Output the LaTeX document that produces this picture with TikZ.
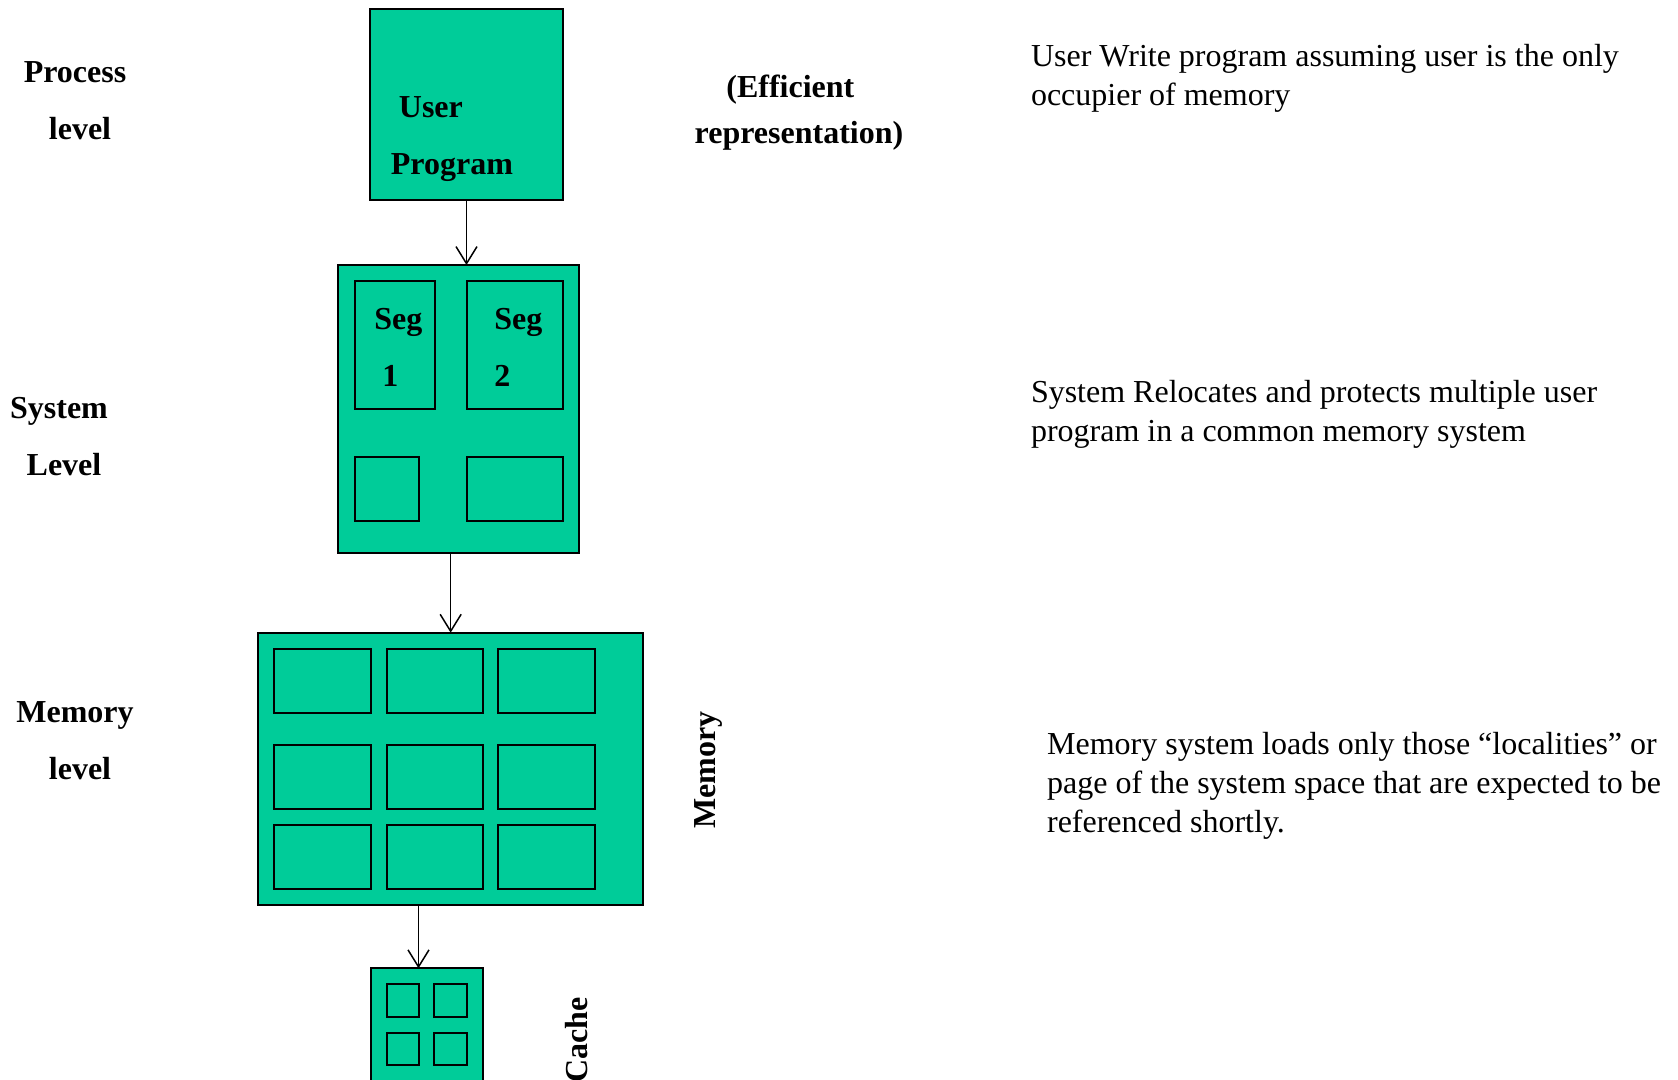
\documentclass[tikz,border=0pt]{standalone}
\usepackage{fontspec}
\setmainfont{Liberation Serif}
\usetikzlibrary{arrows.meta,fit}
\definecolor{boxgreen}{RGB}{0,204,153}
\begin{document}
\begin{tikzpicture}[x=0.5pt,y=-0.5pt,
  blk/.style={draw=black, line width=1pt, fill=boxgreen, inner sep=0pt, outer sep=0pt},
  cell/.style={draw=black, line width=1pt, inner sep=0pt, outer sep=0pt},
  arr/.style={draw=black, line width=0.75pt, -{Straight Barb[length=8.5pt,width=10.5pt]}},
  lbl/.style={font=\fontsize{16}{28.75}\selectfont\bfseries, inner sep=0pt},
  note/.style={font=\fontsize{16}{19.5}\selectfont, inner sep=0pt, align=left, anchor=north west},
]
\useasboundingbox (0,0) rectangle (1678,1080);
\clip (0,0) rectangle (1678,1080);

% level names on the left
\node[lbl, align=center, anchor=north] (lproc) at (75,41.75) {\strut Process\\\hspace*{5pt}level};
\node[lbl, align=center, anchor=north] (lsys)  at (59,377.75) {\strut System\\\hspace*{5pt}Level};
\node[lbl, align=center, anchor=north] (lmem)  at (75,681.75) {\strut Memory\\\hspace*{5pt}level};

% user program
\node[blk, fit={(370,8.6) (563,200)}] (up) {};
\node[lbl, align=left, anchor=north west] (uptxt) at (390.5,76.75) {\strut\hspace*{4pt}User\\Program};
\node[lbl, font=\fontsize{16}{23.25}\selectfont\bfseries, align=center, anchor=north]
  (eff) at (799,64.2) {\strut(Efficient\hspace*{8.6pt}\\representation)};

% system level with segments
\node[blk, fit={(338.3,265) (579,552.7)}] (sys) {};
\node[cell, fit={(354.7,281) (435,409)}] (seg1) {};
\node[cell, fit={(466.7,281) (563,409)}] (seg2) {};
\node[cell, fit={(354.7,456.7) (419,520.7)}] (frag1) {};
\node[cell, fit={(466.7,456.7) (563,520.7)}] (frag2) {};
\node[lbl, align=left, anchor=north west] (seg1txt) at (374,288.75) {\strut Seg\\\hspace*{4pt}1};
\node[lbl, align=left, anchor=north west] (seg2txt) at (494,288.75) {\strut Seg\\2};

% memory level with pages
\node[blk, fit={(258.3,632.7) (643,905)}] (mem) {};
\foreach \r/\ya/\yb in {1/649/712.7, 2/745/809, 3/825/888.7}
  \foreach \c/\xa/\xb in {1/274.3/371, 2/386.7/483.3, 3/498.3/595}
    \node[cell, fit={(\xa,\ya) (\xb,\yb)}] (m\r\c) {};
\node[lbl, rotate=90] (memlbl) at (708.5,770) {Memory};

% cache
\node[blk, fit={(370.7,968.3) (483.3,1110)}] (cache) {};
\node[cell, fit={(386.7,984.3) (419.3,1016.7)}] (c11) {};
\node[cell, fit={(434.3,984.3) (467.3,1016.7)}] (c12) {};
\node[cell, fit={(386.7,1032.7) (419.3,1065)}] (c21) {};
\node[cell, fit={(434.3,1032.7) (467.3,1065)}] (c22) {};
\node[lbl, rotate=90] (cachelbl) at (577,1040) {Cache};

% arrows between levels
\draw[arr] (up.south) -- (up.south |- sys.north);
\draw[arr] (mem.north |- sys.south) -- (mem.north);
\coordinate (cin) at ([xshift=-4.25pt]cache.north);
\draw[arr] (mem.south -| cin) -- (cin);

% descriptions on the right
\node[note] (dproc) at (1030.6,38.4) {\strut User Write program assuming user is the only\\occupier of memory};
\node[note] (dsys) at (1030.6,374.9) {\strut System Relocates and protects multiple user\\program in a common memory system};
\node[note] (dmem) at (1046.7,726.4) {\strut Memory system loads only those “localities” or\\page of the system space that are expected to be\\referenced shortly.};
\end{tikzpicture}
\end{document}
